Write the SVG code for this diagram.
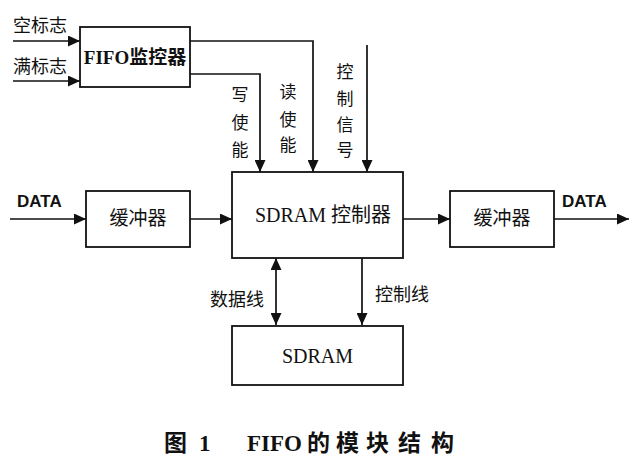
<svg xmlns="http://www.w3.org/2000/svg" width="640" height="463" viewBox="0 0 640 463">
<defs>
<marker id="ah" markerUnits="userSpaceOnUse" markerWidth="13" markerHeight="11" refX="12" refY="5.5" orient="auto-start-reverse">
<path d="M0,0 L12,5.5 L0,11 z" fill="#111"/>
</marker>
<style>
.box{fill:#fff;stroke:#111;stroke-width:1.8}
.ln{fill:none;stroke:#111;stroke-width:1.7}
.t{font-family:"Liberation Serif","Noto Sans CJK SC",serif;fill:#111}
.c{font-family:"Noto Sans CJK SC","Liberation Serif",sans-serif;fill:#111}
.d{font-family:"Liberation Sans",Arial,sans-serif;font-weight:bold;fill:#111;font-size:17px}
</style>
</defs>
<rect width="640" height="463" fill="#fff"/>

<g id="connectors">
<line class="ln" x1="13" y1="41" x2="80" y2="41" marker-end="url(#ah)"/>
<line class="ln" x1="13" y1="81" x2="80" y2="81" marker-end="url(#ah)"/>
<polyline class="ln" points="190,41 313,41 313,172" marker-end="url(#ah)"/>
<polyline class="ln" points="190,74 260,74 260,172" marker-end="url(#ah)"/>
<line class="ln" x1="367" y1="45" x2="367" y2="172" marker-end="url(#ah)"/>
<line class="ln" x1="10" y1="219" x2="86" y2="219" marker-end="url(#ah)"/>
<line class="ln" x1="190" y1="219" x2="232" y2="219" marker-end="url(#ah)"/>
<line class="ln" x1="403" y1="219" x2="450" y2="219" marker-end="url(#ah)"/>
<line class="ln" x1="554" y1="219" x2="629" y2="219" marker-end="url(#ah)"/>
<line class="ln" x1="276" y1="258" x2="276" y2="325" marker-start="url(#ah)" marker-end="url(#ah)"/>
<line class="ln" x1="362" y1="258" x2="362" y2="325" marker-end="url(#ah)"/>
</g>

<g id="labels">
<text class="c" x="13" y="32" font-size="18">空标志</text>
<text class="c" x="13" y="73" font-size="18">满标志</text>
<text class="c" font-size="17" text-anchor="middle"><tspan x="240" y="101">写</tspan><tspan x="240" y="129">使</tspan><tspan x="240" y="156">能</tspan></text>
<text class="c" font-size="17" text-anchor="middle"><tspan x="288" y="98">读</tspan><tspan x="288" y="126">使</tspan><tspan x="288" y="151">能</tspan></text>
<text class="c" font-size="17" text-anchor="middle"><tspan x="345" y="78">控</tspan><tspan x="345" y="105">制</tspan><tspan x="345" y="131">信</tspan><tspan x="345" y="156">号</tspan></text>
<text class="d" x="17" y="207">DATA</text>
<text class="d" x="562" y="207">DATA</text>
<text class="c" x="264" y="306" font-size="18" text-anchor="end">数据线</text>
<text class="c" x="375" y="301" font-size="18">控制线</text>
</g>

<g id="fifo-monitor">
<rect class="box" x="80" y="27" width="110" height="60"/>
<text class="t" x="135" y="64" font-size="19" font-weight="bold" text-anchor="middle">FIFO监控器</text>
</g>

<g id="buffer-in">
<rect class="box" x="86" y="191" width="104" height="56"/>
<text class="c" x="138" y="225" font-size="19" text-anchor="middle">缓冲器</text>
</g>

<g id="sdram-controller">
<rect class="box" x="232" y="172" width="171" height="86"/>
<text class="t" x="323" y="222" font-size="20" text-anchor="middle">SDRAM 控制器</text>
</g>

<g id="buffer-out">
<rect class="box" x="450" y="191" width="104" height="56"/>
<text class="c" x="502" y="225" font-size="19" text-anchor="middle">缓冲器</text>
</g>

<g id="sdram">
<rect class="box" x="232" y="326" width="171" height="59"/>
<text class="t" x="317.5" y="363" font-size="20" text-anchor="middle">SDRAM</text>
</g>

<g id="caption">
<text class="t" font-size="23" font-weight="bold"><tspan x="164" y="451">图</tspan><tspan x="199" y="451">1</tspan><tspan x="247" y="451">FIFO</tspan><tspan x="307" y="451">的</tspan><tspan x="336" y="451">模</tspan><tspan x="366" y="451">块</tspan><tspan x="398" y="451">结</tspan><tspan x="431" y="451">构</tspan></text>
</g>
</svg>
